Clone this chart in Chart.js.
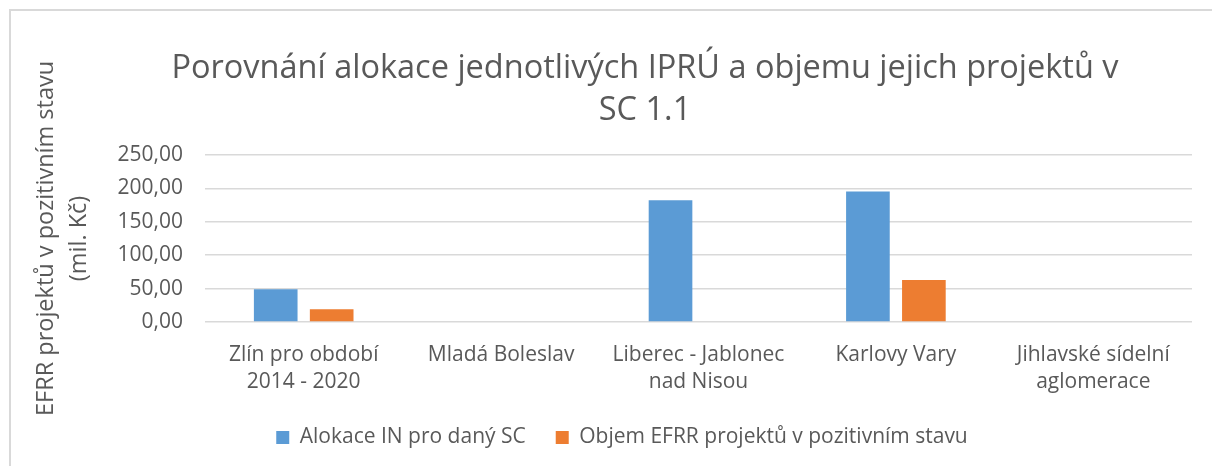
<!DOCTYPE html>
<html lang="cs">
<head>
<meta charset="utf-8">
<title>Porovnání alokace IPRÚ</title>
<script src="https://cdn.jsdelivr.net/npm/chart.js@4.4.0/dist/chart.umd.min.js"></script>
<style>
  html, body { margin: 0; padding: 0; background: #fff; overflow: hidden; }
  body { width: 1212px; height: 466px; position: relative; }
  .frame {
    position: absolute; left: 9px; top: 9px; width: 1400px; height: 600px;
    border: 2px solid #d9d9d9; box-sizing: border-box;
  }
  #chart { position: absolute; left: 0; top: 0; }
</style>
</head>
<body>
<div class="frame"></div>
<canvas id="chart" width="1290" height="466"></canvas>
<script>
// data (mil. Kč)
const categories = [
  ['Zlín pro období', '2014 - 2020'],
  'Mladá Boleslav',
  ['Liberec - Jablonec', 'nad Nisou'],
  'Karlovy Vary',
  ['Jihlavské sídelní', 'aglomerace']
];
const alokace = [49, 0, 182, 195, 0];
const objemPozitivni = [19, 0, 0, 63, 0];
const yTicks = [0, 50, 100, 150, 200, 250];

const seriesNames = ['Alokace IN pro daný SC', 'Objem EFRR projektů v pozitivním stavu'];
const chartTitle = ['Porovnání alokace jednotlivých IPRÚ a objemu jejich projektů v', 'SC 1.1'];
const yTitle = ['EFRR projektů v pozitivním stavu', '(mil. Kč)'];

const grey = '#595959';
Chart.defaults.font.family = "'Open Sans', sans-serif";
Chart.defaults.color = grey;

// Excel centres the legend a bit left of the title; nudge it
const legendShift = {
  id: 'legendShift',
  afterLayout(chart) {
    const lg = chart.legend;
    if (lg) { lg.left -= 23; lg.right -= 23; }
  }
};

const fmt = v => v.toFixed(2).replace('.', ',');

new Chart(document.getElementById('chart'), {
  type: 'bar',
  data: {
    labels: categories,
    datasets: [{
      label: seriesNames[0],
      data: alokace,
      backgroundColor: '#5B9BD5',
      borderWidth: 0,
      categoryPercentage: 0.567,
      barPercentage: 0.78
    }, {
      label: seriesNames[1],
      data: objemPozitivni,
      backgroundColor: '#ED7D31',
      borderWidth: 0,
      categoryPercentage: 0.567,
      barPercentage: 0.78
    }]
  },
  options: {
    responsive: false,
    animation: false,
    layout: { padding: { left: 10, right: 10, top: 10, bottom: 8 } },
    plugins: {
      title: {
        display: true,
        text: chartTitle,
        color: grey,
        font: { size: 32.5, weight: 'normal', lineHeight: 1.29 },
        padding: { top: 38, bottom: 23 }
      },
      legend: {
        position: 'bottom',
        labels: {
          boxWidth: 13,
          boxHeight: 13,
          padding: 30,
          color: grey,
          font: { size: 21 }
        }
      },
      tooltip: { enabled: false }
    },
    scales: {
      x: {
        grid: { display: false, drawTicks: false },
        border: { display: false },
        ticks: { padding: 19, font: { size: 21, lineHeight: 1.29 }, color: grey, maxRotation: 0 },
        afterFit(scale) { scale.height = 75; }
      },
      y: {
        min: 0,
        max: 250,
        afterBuildTicks(scale) { scale.ticks = yTicks.map(v => ({ value: v })); },
        ticks: { padding: 22, font: { size: 21 }, color: grey, callback: v => fmt(v) },
        grid: { color: '#d9d9d9', lineWidth: 1.5, drawTicks: false },
        border: { display: false },
        title: {
          display: true,
          text: yTitle,
          color: grey,
          font: { size: 23.5, lineHeight: 1.4 },
          padding: { top: 20, bottom: 0 }
        },
        afterFit(scale) { scale.width = 195; }
      },
      // empty right-hand box so the plot ends where Excel's does
      spacer: {
        position: 'right',
        display: true,
        grid: { display: false, drawTicks: false },
        border: { display: false },
        ticks: { display: false },
        afterFit(scale) { scale.width = 88; }
      }
    }
  },
  plugins: [legendShift]
});
</script>
</body>
</html>
